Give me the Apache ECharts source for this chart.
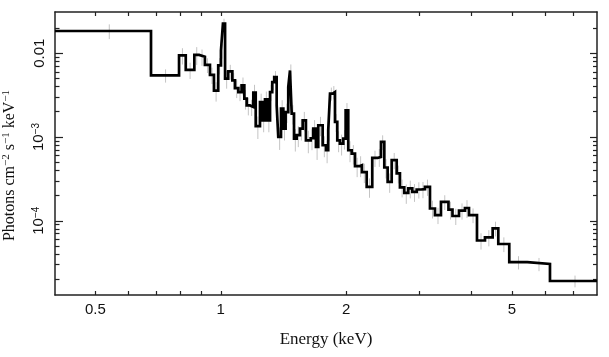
<!DOCTYPE html>
<html><head><meta charset="utf-8">
<script src="https://cdn.jsdelivr.net/npm/echarts@6/dist/echarts.min.js"></script>
<style>html,body{margin:0;padding:0;background:#fff}#c{width:609px;height:357px}</style>
</head><body><div id="c"></div>
<script>
// Bin edges in keV (93 edges -> 92 bins)
const binEdges = [
  0.400, 0.680, 0.794, 0.824, 0.864, 0.887, 0.916, 0.942, 0.963, 0.986,
  1.001, 1.012, 1.024, 1.042, 1.066, 1.082, 1.102, 1.122, 1.139, 1.154,
  1.175, 1.197, 1.213, 1.242, 1.258, 1.277, 1.296, 1.313, 1.329, 1.344,
  1.362, 1.374, 1.395, 1.413, 1.431, 1.452, 1.466, 1.480, 1.499, 1.521,
  1.549, 1.573, 1.601, 1.644, 1.667, 1.692, 1.714, 1.756, 1.789, 1.811,
  1.829, 1.856, 1.880, 1.904, 1.932, 1.968, 1.994, 2.023, 2.062, 2.100,
  2.150, 2.182, 2.240, 2.310, 2.380, 2.424, 2.469, 2.515, 2.572, 2.644,
  2.692, 2.757, 2.819, 2.882, 2.953, 3.024, 3.091, 3.178, 3.267, 3.377,
  3.520, 3.599, 3.731, 3.856, 3.943, 4.121, 4.307, 4.494, 4.636, 4.926,
  5.442, 6.169, 8.000
];
// Photons cm^-2 s^-1 keV^-1 per bin
const fluxValues = [
  0.0184, 0.00543, 0.00939, 0.00631, 0.00952, 0.00906, 0.00724, 0.0055, 0.00357, 0.00714,
  0.01077, 0.0226, 0.00496, 0.00605, 0.00473, 0.00383, 0.00343, 0.00413, 0.00287, 0.00238,
  0.00228, 0.00338, 0.00135, 0.00261, 0.00158, 0.00281, 0.00158, 0.00343, 0.00452, 0.00518,
  0.00238, 0.00100, 0.00218, 0.00126, 0.00198, 0.00394, 0.00622, 0.0019, 0.000957, 0.00105,
  0.00126, 0.00158, 0.000913, 0.000965, 0.00126, 0.00076, 0.00138, 0.000796, 0.000694, 0.0012,
  0.00329, 0.00343, 0.00151, 0.000913, 0.000834, 0.000957, 0.00208, 0.000694, 0.000634, 0.000448,
  0.00046, 0.00038, 0.000254, 0.000562, 0.000578, 0.000872, 0.000432, 0.000291, 0.000528, 0.000367,
  0.00025, 0.000215, 0.000243, 0.000221, 0.000236, 0.000238, 0.000254, 0.00014, 0.000117, 0.000168,
  0.000136, 0.000114, 0.000132, 0.000142, 0.000117, 5.81e-5, 6.34e-5, 8.12e-5, 5.28e-5, 3.2e-5,
  3.05e-5, 1.91e-5
];
// relative 1-sigma errors per bin
const fluxErrors = [
  0.20, 0.18, 0.22, 0.22, 0.24, 0.22, 0.20, 0.22, 0.26, 0.22,
  0.20, 0.14, 0.24, 0.20, 0.22, 0.24, 0.22, 0.24, 0.26, 0.24,
  0.22, 0.24, 0.30, 0.26, 0.28, 0.24, 0.28, 0.22, 0.20, 0.18,
  0.26, 0.30, 0.26, 0.28, 0.26, 0.22, 0.18, 0.26, 0.30, 0.28,
  0.28, 0.26, 0.30, 0.28, 0.26, 0.30, 0.26, 0.28, 0.30, 0.26,
  0.18, 0.18, 0.24, 0.28, 0.28, 0.26, 0.22, 0.28, 0.26, 0.26,
  0.28, 0.26, 0.26, 0.22, 0.24, 0.20, 0.26, 0.26, 0.22, 0.24,
  0.24, 0.26, 0.24, 0.24, 0.22, 0.22, 0.22, 0.24, 0.22, 0.20,
  0.24, 0.22, 0.22, 0.24, 0.20, 0.22, 0.22, 0.20, 0.20, 0.18,
  0.18, 0.16
];
const xTickValues = [0.5, 0.6, 0.7, 0.8, 0.9, 1, 2, 3, 4, 5, 6, 7];
const xLabelValues = [0.5, 1, 2, 5];
const yMajorValues = [1e-4, 1e-3, 1e-2];
const yMinorValues = [2e-5, 3e-5, 4e-5, 5e-5, 6e-5, 7e-5, 8e-5, 9e-5,
  2e-4, 3e-4, 4e-4, 5e-4, 6e-4, 7e-4, 8e-4, 9e-4,
  2e-3, 3e-3, 4e-3, 5e-3, 6e-3, 7e-3, 8e-3, 9e-3, 2e-2];
const yLabelTexts = ['10{sup|\u22124}', '10{sup|\u22123}', '0.01'];
const xRange = [0.4, 8];
const yRange = [1.3e-5, 0.031];

// build step polyline from bins
const stepData = [];
for (let i = 0; i < fluxValues.length; i++) {
  stepData.push([binEdges[i], fluxValues[i]]);
  stepData.push([binEdges[i + 1], fluxValues[i]]);
}
const errData = fluxValues.map((v, i) => [
  (binEdges[i] + binEdges[i + 1]) / 2, v * (1 - fluxErrors[i]), v * (1 + fluxErrors[i])
]);

const AX = '#222';
const sansFont = 'Liberation Sans';
const serifFont = 'Liberation Serif';

function yFmt(v) {
  for (let i = 0; i < yMajorValues.length; i++) {
    if (Math.abs(Math.log10(v) - Math.log10(yMajorValues[i])) < 1e-6) return yLabelTexts[i];
  }
  return '';
}

const baseX = {
  type: 'log', min: xRange[0], max: xRange[1], logBase: 10,
  splitLine: { show: false }, axisLine: { show: true, lineStyle: { color: AX, width: 1.5 } },
  axisTick: { show: true, inside: true, length: 4, customValues: xTickValues, lineStyle: { color: AX, width: 1.2 } }
};
const baseY = {
  type: 'log', min: yRange[0], max: yRange[1], logBase: 10,
  splitLine: { show: false }
};

const option = {
  animation: false,
  backgroundColor: '#fff',
  grid: { left: 55, right: 12, top: 12, bottom: 62, containLabel: false, outerBoundsMode: 'none' },
  xAxis: [
    Object.assign({}, baseX, {
      position: 'bottom',
      name: 'Energy (keV)', nameLocation: 'middle', nameGap: 36,
      nameTextStyle: { fontFamily: serifFont, fontSize: 17, color: '#111' },
      axisLabel: { show: true, customValues: xLabelValues, margin: 7, fontFamily: sansFont, fontSize: 15, color: '#111',
        formatter: v => String(+v.toPrecision(3)) }
    }),
    Object.assign({}, baseX, { position: 'top', axisLabel: { show: false } })
  ],
  yAxis: [
    Object.assign({}, baseY, {
      position: 'left',
      axisLine: { show: true, lineStyle: { color: AX, width: 1.5 } },
      axisTick: { show: true, inside: true, length: 8, customValues: yMajorValues, lineStyle: { color: AX, width: 1.2 } },
      axisLabel: { show: true, customValues: yMajorValues, rotate: 90, margin: 8, fontFamily: sansFont, fontSize: 15, color: '#111',
        formatter: yFmt, rich: { sup: { fontFamily: sansFont, fontSize: 10, color: '#111', verticalAlign: 'top', padding: [0, 0, 6, 0] } } },
      name: 'Photons cm{sup|\u22122} s{sup|\u22121} keV{sup|\u22121}', nameLocation: 'middle', nameGap: 36, nameRotate: 90,
      nameTextStyle: { fontFamily: serifFont, fontSize: 16, color: '#111', padding: [0, 24, 0, 0],
        rich: { sup: { fontFamily: serifFont, fontSize: 11, color: '#111', padding: [0, 0, 7, 0] } } }
    }),
    Object.assign({}, baseY, {
      position: 'left', axisLine: { show: false }, axisLabel: { show: false },
      axisTick: { show: true, inside: true, length: 4.5, customValues: yMinorValues, lineStyle: { color: AX, width: 1.2 } }
    }),
    Object.assign({}, baseY, {
      position: 'right', axisLine: { show: true, lineStyle: { color: AX, width: 1.5 } }, axisLabel: { show: false },
      axisTick: { show: true, inside: true, length: 7, customValues: yMajorValues, lineStyle: { color: AX, width: 1.2 } }
    }),
    Object.assign({}, baseY, {
      position: 'right', axisLine: { show: false }, axisLabel: { show: false },
      axisTick: { show: true, inside: true, length: 4, customValues: yMinorValues, lineStyle: { color: AX, width: 1.2 } }
    })
  ],
  series: [
    {
      type: 'custom', xAxisIndex: 0, yAxisIndex: 0, z: 1, silent: true,
      data: errData,
      renderItem: function (params, api) {
        const p1 = api.coord([api.value(0), api.value(1)]);
        const p2 = api.coord([api.value(0), api.value(2)]);
        return { type: 'line', shape: { x1: p1[0], y1: p1[1], x2: p2[0], y2: p2[1] },
          style: { stroke: '#c4c4c4', lineWidth: 1 } };
      }
    },
    {
      type: 'line', xAxisIndex: 0, yAxisIndex: 0, z: 3, data: stepData, showSymbol: false, symbol: 'none',
      lineStyle: { color: '#000', width: 2.7, join: 'miter' }, silent: true, clip: true
    }
  ]
};
const chart = echarts.init(document.getElementById('c'), null, { renderer: 'canvas' });
chart.setOption(option);
</script></body></html>
